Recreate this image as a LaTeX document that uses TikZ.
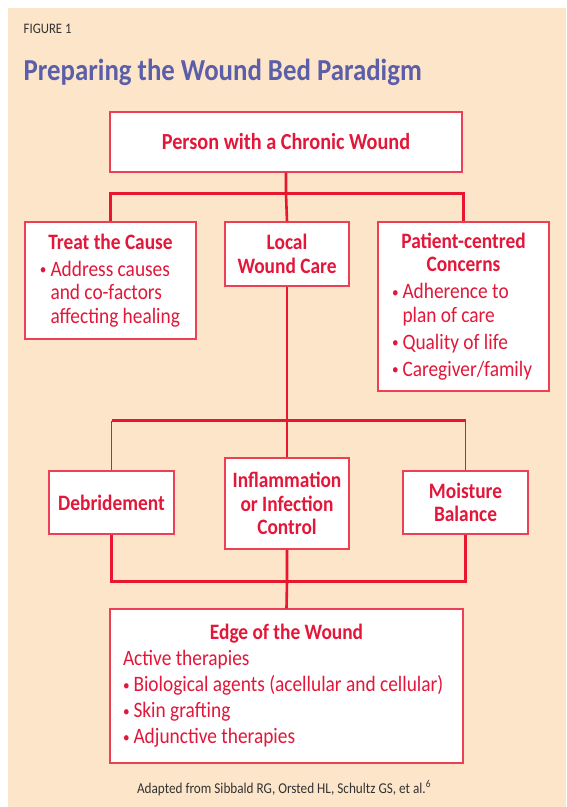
\documentclass[tikz,border=0pt]{standalone}
\usepackage{fontspec}
\setmainfont{Carlito}[FakeStretch=0.88]
\usetikzlibrary{calc}

\definecolor{peach}{HTML}{FDE5C9}
\definecolor{boxred}{HTML}{EE4055}
\definecolor{linkred}{HTML}{E8172F}
\definecolor{txtred}{HTML}{E2173A}
\definecolor{titleblue}{HTML}{5B5EA8}
\definecolor{notegray}{HTML}{333333}

\newcommand{\itemline}[1]{\makebox[10.5pt][l]{\raisebox{1.5pt}{\fontsize{15}{15}\selectfont\textbullet}}\mbox{#1}}
\newcommand{\contline}[1]{\hspace*{10.5pt}\mbox{#1}}
\newcommand{\boxfont}{\fontsize{22}{23.5}\selectfont}
\newcommand{\plainspaces}{\spaceskip=0pt\xspaceskip=0pt\hyphenpenalty=10000\exhyphenpenalty=10000}

\begin{document}
\begin{tikzpicture}[x=1pt,y=-1pt]
			\tikzstyle{box}=[rectangle, draw=boxred, line width=1.4pt, fill=white, text=txtred, inner sep=0pt, font=\boxfont]
			\tikzstyle{head}=[box, align=center, font=\boxfont\bfseries]
			\tikzstyle{link}=[draw=linkred, line width=2.6pt]
			\tikzstyle{thin link}=[draw=linkred, line width=1.7pt]
			\useasboundingbox (0,0) rectangle (566,807);
			\fill[peach] (8,8) rectangle (566,807);
			% captions
			\node[anchor=base west, inner sep=0pt, text=notegray, font=\fontsize{14.5}{16}\selectfont] (fig) at (23.5,33) {FIGURE 1};
			\node[anchor=base west, inner sep=0pt, text=titleblue, font=\fontsize{30.5}{32}\selectfont\bfseries] (title) at (23.5,80) {Preparing the Wound Bed Paradigm};
			\node[anchor=base, inner sep=0pt, text=notegray, font=\fontsize{15}{17}\selectfont] (note) at (284,793) {Adapted from Sibbald RG, Orsted HL, Schultz GS, et al.\textsuperscript{6}};
			% boxes
			\node[head, minimum width=352pt, minimum height=60pt, font=\fontsize{23}{25}\selectfont\bfseries] (top) at (286,142) {Person with a Chronic Wound};
			\node[box, text width=141pt, inner xsep=15pt, minimum height=117pt, align=left] (treat) at (110.5,280.5)
				{\plainspaces\makebox[\hsize]{\textbf{Treat the Cause}}\\[3.5pt]
				\itemline{Address causes}\\ \contline{and co-factors}\\ \contline{affecting healing}};
			\node[head, minimum width=124pt, minimum height=64pt] (local) at (287,254) {Local\\Wound Care};
			\node[box, text width=143pt, inner xsep=14pt, minimum height=169pt, align=left] (patient) at (463.5,306.5)
				{\plainspaces\makebox[\hsize]{\textbf{Patient-centred}}\\ \makebox[\hsize]{\textbf{Concerns}}\\[3.5pt]
				\itemline{Adherence to}\\ \contline{plan of care}\\[3.5pt]
				\itemline{Quality of life}\\[3.5pt]
				\itemline{Caregiver/family}};
			\node[head, minimum width=125pt, minimum height=63pt] (debride) at (111.5,502.5) {Debridement};
			\node[head, minimum width=124pt, minimum height=91pt] (inflam) at (287,503.5) {Inflammation\\or Infection\\Control};
			\node[head, minimum width=125pt, minimum height=63pt] (moist) at (465.5,502.5) {Moisture\\Balance};
			\node[box, text width=327pt, inner xsep=13pt, minimum height=154pt, align=left, font=\fontsize{22}{26}\selectfont] (edge) at (286.5,686)
				{\plainspaces\makebox[\hsize]{\textbf{Edge of the Wound}}\\
				Active therapies\\
				\itemline{Biological agents (acellular and cellular)}\\
				\itemline{Skin grafting}\\
				\itemline{Adjunctive therapies}};
			% connectors
			\path (top.south) ++(0,21) coordinate (hub1);
			\path (local.south) ++(0,134) coordinate (hub2);
			\path (inflam.south) ++(0,32) coordinate (hub3);
			\draw[link] (top.south) -- (hub1) -- (local.north);
			\draw[link] (treat.north) |- (hub1) -| (patient.north);
			\draw[link] (local.south) -- (hub2) -- (inflam.north);
			\draw[link] (hub2 -| debride.north) -- (hub2 -| moist.north);
			\draw[thin link] (hub2 -| debride.north) -- (debride.north);
			\draw[thin link] (hub2 -| moist.north) -- (moist.north);
			\draw[link] (debride.south) |- (hub3) -| (moist.south);
			\draw[link] (inflam.south) -- (hub3) -- (edge.north);
		\end{tikzpicture}
\end{document}
